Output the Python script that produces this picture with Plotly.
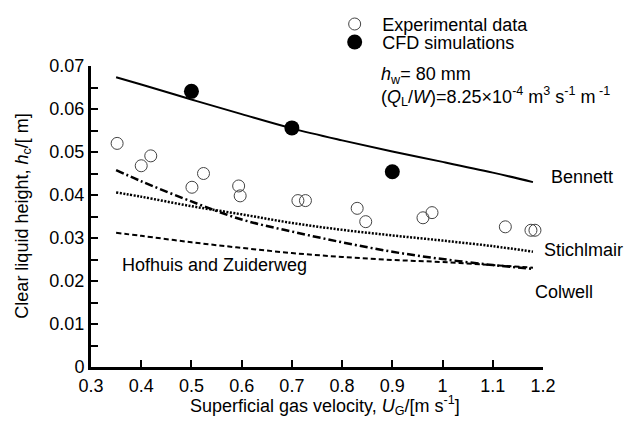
import plotly.graph_objects as go

# experimental data (open circles)
exp_ug = [0.352, 0.400, 0.419, 0.501, 0.524, 0.594, 0.597, 0.712, 0.727,
          0.830, 0.847, 0.961, 0.979, 1.125, 1.176, 1.184]
exp_hc = [0.0520, 0.0468, 0.0491, 0.0418, 0.0450, 0.0421, 0.0398, 0.0387, 0.0387,
          0.0369, 0.0338, 0.0347, 0.0359, 0.0326, 0.0318, 0.0318]

# CFD simulations (filled circles)
cfd_ug = [0.50, 0.70, 0.90]
cfd_hc = [0.0641, 0.0556, 0.0454]

# correlations
corr_ug = [0.35, 0.40, 0.50, 0.60, 0.70, 0.80, 0.90, 1.00, 1.10, 1.18]
bennett = [0.0674, 0.0657, 0.0622, 0.0588, 0.0555, 0.0527, 0.0501, 0.0477, 0.0452, 0.0430]
stichlmair = [0.0406, 0.0396, 0.0374, 0.0355, 0.0335, 0.0319, 0.0306, 0.0294, 0.0281, 0.0268]
colwell = [0.0458, 0.0432, 0.0385, 0.0343, 0.0315, 0.0290, 0.0268, 0.0251, 0.0237, 0.0228]
hofhuis = [0.0312, 0.0305, 0.0290, 0.0277, 0.0265, 0.0256, 0.0249, 0.0244, 0.0237, 0.0231]

FONT = "Liberation Sans, Arial, Helvetica, sans-serif"
FS = 18

fig = go.Figure()

lines = [
    (bennett, "solid", 2),
    (stichlmair, "2px,1.5px", 2.5),
    (colwell, "8px,3px,2px,3px", 2.5),
    (hofhuis, "5px,3px", 2),
]
for vals, dash, width in lines:
    fig.add_trace(go.Scatter(
        x=corr_ug, y=vals, mode="lines", showlegend=False,
        line=dict(color="black", width=width, dash=dash, shape="spline"),
    ))

fig.add_trace(go.Scatter(
    x=exp_ug, y=exp_hc, mode="markers", name="Experimental data", legend="legend",
    marker=dict(symbol="circle-open", size=12, color="#444", line=dict(width=1)),
))
fig.add_trace(go.Scatter(
    x=cfd_ug, y=cfd_hc, mode="markers", name="CFD simulations", legend="legend2",
    marker=dict(symbol="circle", size=15, color="black"),
))

# curve labels (x in paper units so labels past the axis end stay visible)
labels = [
    ("Bennett", 1.013, 0.0442),
    ("Stichlmair", 0.998, 0.0272),
    ("Colwell", 0.978, 0.0174),
    ("Hofhuis and Zuiderweg", 0.064, 0.0237),
]
for text, x, y in labels:
    fig.add_annotation(xref="paper", x=x, y=y, text=text, showarrow=False,
                       xanchor="left", font=dict(size=FS, color="black"))

fig.add_annotation(xref="paper", x=0.638, y=0.0677, text="<i>h</i><sub>w</sub>= 80 mm",
                   showarrow=False, xanchor="left", font=dict(size=FS, color="black"))
fig.add_annotation(xref="paper", x=0.638, y=0.0628,
                   text="(<i>Q</i><sub>L</sub>/<i>W</i>)=8.25×10<sup>-4</sup> m<sup>3</sup> s<sup>-1</sup> m<sup> -1</sup>",
                   showarrow=False, xanchor="left", font=dict(size=FS, color="black"))

# axis titles
fig.add_annotation(xref="paper", yref="paper", x=0.518, y=-0.176,
                   text="Superficial gas velocity, <i>U</i><sub>G</sub>/[m s<sup>-1</sup>]",
                   showarrow=False, font=dict(size=FS, color="black"))
fig.add_annotation(xref="paper", yref="paper", x=-0.18, y=0.50, textangle=-90,
                   text="Clear liquid height, <i>h</i><sub>c</sub>/[ m]",
                   showarrow=False, font=dict(size=FS, color="black"))

legend_style = dict(x=0.5225, xanchor="left", yanchor="top",
                    bgcolor="rgba(0,0,0,0)", font=dict(size=FS), itemwidth=45)

fig.update_layout(
    width=632, height=421,
    margin=dict(l=83, r=97, t=58, b=62, autoexpand=False),
    paper_bgcolor="white", plot_bgcolor="white",
    font=dict(family=FONT, size=FS, color="black"),
    legend=dict(y=1.2, **legend_style),
    legend2=dict(y=1.14, **legend_style),
)
fig.update_xaxes(
    range=[0.3, 1.2], dtick=0.1, tick0=0.3, showgrid=False, zeroline=False,
    showline=True, linecolor="black", linewidth=3,
    ticks="inside", ticklen=7, tickwidth=2, tickcolor="black",
)
fig.update_yaxes(
    range=[0, 0.07], dtick=0.01, showgrid=False, zeroline=False,
    showline=True, linecolor="black", linewidth=3,
    ticks="inside", ticklen=7, tickwidth=2, tickcolor="black",
    minor=dict(dtick=0.005, ticks="inside", ticklen=7, tickwidth=2, tickcolor="black", showgrid=False),
)

fig.write_html("out.html")
